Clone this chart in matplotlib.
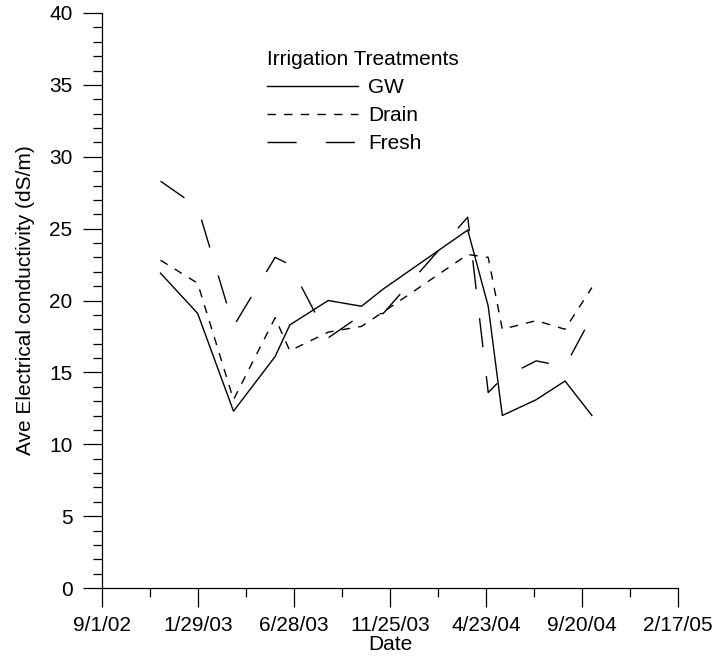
import numpy as np
import matplotlib.pyplot as plt
import matplotlib.dates as mdates
from matplotlib.ticker import FixedLocator, MultipleLocator

plt.rcParams['font.family'] = ['Liberation Sans', 'DejaVu Sans']

# sampling dates
dates = ['2002-12-01', '2003-01-28', '2003-03-25', '2003-05-29', '2003-06-21',
         '2003-08-20', '2003-10-11', '2003-11-14', '2004-03-25', '2004-04-26',
         '2004-05-18', '2004-07-10', '2004-08-24', '2004-10-05']

# average EC (dS/m) per treatment
gw    = [21.9, 19.1, 12.3, 16.1, 18.3, 20.0, 19.6, 20.8, 24.9, 19.6, 12.0, 13.1, 14.4, 12.0]
drain = [22.8, 21.2, 13.1, 18.8, 16.5, 17.8, 18.2, 19.2, 23.2, 23.0, 18.0, 18.6, 18.0, 20.9]
fresh = [28.3, 26.5, 18.2, 23.0, 22.5, 17.4, 19.0, 19.1, 25.8, 13.6, 14.6, 15.8, 15.4, 18.9]

tick_dates = ['2002-09-01', '2003-01-29', '2003-06-28', '2003-11-25',
              '2004-04-23', '2004-09-20', '2005-02-17']
tick_labels = ['9/1/02', '1/29/03', '6/28/03', '11/25/03', '4/23/04', '9/20/04', '2/17/05']

x = mdates.datestr2num(dates)
xt = mdates.datestr2num(tick_dates)

fig = plt.figure(figsize=(7.16, 6.62), dpi=100)
ax = fig.add_axes([102.3 / 716, 1 - 588 / 662, 576 / 716, 575 / 662])

ax.plot(x, gw, color='black', lw=1.0, label='GW')
ax.plot(x, drain, color='black', lw=1.0, dashes=(6, 6), label='Drain')
ax.plot(x, fresh, color='black', lw=1.0, dashes=(21, 21), label='Fresh')

ax.set_xlim(xt[0], xt[-1])
ax.set_ylim(0, 40)
ax.xaxis.set_major_locator(FixedLocator(xt))
ax.xaxis.set_minor_locator(FixedLocator(np.arange(xt[0], xt[-1] + 1, 75)))
ax.set_xticklabels(tick_labels)
ax.yaxis.set_major_locator(MultipleLocator(5))
ax.yaxis.set_minor_locator(MultipleLocator(1))

for s in ['top', 'right']:
    ax.spines[s].set_visible(False)
for s in ['left', 'bottom']:
    ax.spines[s].set_linewidth(0.9)

ax.tick_params(which='major', direction='out', length=13.5, width=0.9, labelsize=15)
ax.tick_params(which='minor', direction='out', length=6.5, width=0.9)
ax.tick_params(axis='x', which='major', pad=7)
ax.tick_params(axis='y', which='major', pad=8)

ax.set_xlabel('Date', fontsize=15, labelpad=0)
ax.set_ylabel('Ave Electrical conductivity (dS/m)', fontsize=15, labelpad=10)

leg = ax.legend(title='Irrigation Treatments', frameon=False, fontsize=15,
                title_fontsize=15, handlelength=4.375, handletextpad=0.48,
                labelspacing=0.43, alignment='left', borderpad=0, borderaxespad=0,
                loc='upper left', bbox_to_anchor=(267 / 716, 1 - 50 / 662),
                bbox_transform=fig.transFigure)

fig.savefig('out.png', dpi=100)
